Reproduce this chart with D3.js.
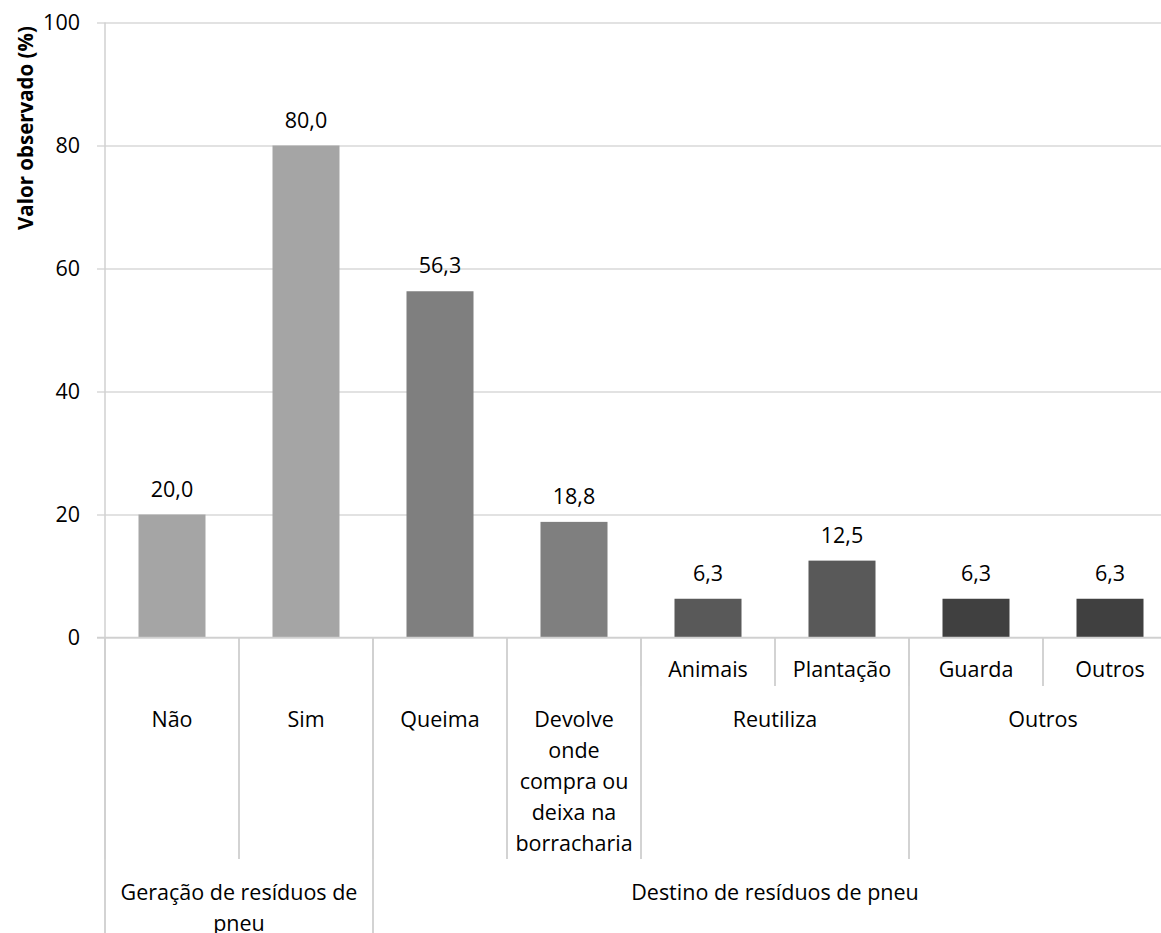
<!DOCTYPE html>
<html>
<head>
<meta charset="utf-8">
<script src="https://cdn.jsdelivr.net/npm/d3@7"></script>
<style>
  html, body { margin: 0; padding: 0; background: #fff; }
  svg { display: block; }
  text { font-family: "Open Sans", "Noto Sans", sans-serif; fill: #000; }
</style>
</head>
<body>
<svg id="chart" width="1161" height="933"></svg>
<script>
// ---- data ----
const categories = ["Não", "Sim", "Queima", "Devolve onde compra ou deixa na borracharia", "Animais", "Plantação", "Guarda", "Outros"];
const values = [20.0, 80.0, 56.3, 18.8, 6.3, 12.5, 6.3, 6.3];
const valueLabels = ["20,0", "80,0", "56,3", "18,8", "6,3", "12,5", "6,3", "6,3"];
const barColors = ["#a5a5a5", "#a5a5a5", "#7f7f7f", "#7f7f7f", "#595959", "#595959", "#404040", "#404040"];
// hierarchical axis labels: [label, firstIndex, lastIndex]
const level1 = [["Animais", 4, 4], ["Plantação", 5, 5], ["Guarda", 6, 6], ["Outros", 7, 7]];
const level2 = [["Não", 0, 0], ["Sim", 1, 1], ["Queima", 2, 2], ["Devolve onde compra ou deixa na borracharia", 3, 3], ["Reutiliza", 4, 5], ["Outros", 6, 7]];
const level3 = [["Geração de resíduos de pneu", 0, 1], ["Destino de resíduos de pneu", 2, 7]];
const yTicks = [0, 20, 40, 60, 80, 100];
const yTitle = "Valor observado (%)";

// ---- layout ----
const svg = d3.select("#chart");
const plotLeft = 105, plotRight = 1177, plotTop = 22.5, plotBottom = 637.5;
const fs = 21.5;
const x = d3.scaleBand().domain(d3.range(categories.length)).range([plotLeft, plotRight]).paddingInner(0).paddingOuter(0);
const y = d3.scaleLinear().domain([0, 100]).range([plotBottom, plotTop]);
const bw = x.bandwidth();

// gridlines + y axis
const yAxis = d3.axisLeft(y).tickValues(yTicks).tickSize(-(plotRight - plotLeft)).tickSizeOuter(0).tickPadding(25).tickFormat(d3.format("d"));
const gy = svg.append("g").attr("transform", `translate(${plotLeft},0)`).call(yAxis);
gy.select(".domain").remove();
gy.selectAll(".tick line").attr("x1", -8).attr("stroke", "#d9d9d9").attr("stroke-width", 1.3);
gy.selectAll(".tick text").attr("font-size", fs).attr("fill", "#000").style("font-family", '"Open Sans", sans-serif');

// vertical axis line (continues through category label area)
svg.append("line").attr("x1", plotLeft).attr("x2", plotLeft).attr("y1", plotTop).attr("y2", 933)
  .attr("stroke", "#d0d0d0").attr("stroke-width", 1.5);

// bars
svg.append("g").selectAll("rect").data(values).join("rect")
  .attr("x", (d, i) => x(i) + bw / 4)
  .attr("width", bw / 2)
  .attr("y", d => y(d))
  .attr("height", d => y(0) - y(d))
  .attr("fill", (d, i) => barColors[i]);

// value labels
svg.append("g").selectAll("text").data(values).join("text")
  .attr("x", (d, i) => x(i) + bw / 2)
  .attr("y", d => y(d) - 18)
  .attr("text-anchor", "middle")
  .attr("font-size", fs)
  .text((d, i) => valueLabels[i]);

// horizontal axis line at 0
svg.append("line").attr("x1", plotLeft - 8).attr("x2", plotRight).attr("y1", y(0)).attr("y2", y(0))
  .attr("stroke", "#d0d0d0").attr("stroke-width", 1.5);

// hierarchical category axis
function wrapText(sel, width, lineH) {
  sel.each(function () {
    const t = d3.select(this);
    const words = t.text().split(/\s+/);
    const x0 = t.attr("x"), y0 = +t.attr("y");
    t.text(null);
    let line = [], lineNo = 0;
    let tspan = t.append("tspan").attr("x", x0).attr("y", y0);
    for (const w of words) {
      line.push(w);
      tspan.text(line.join(" "));
      if (tspan.node().getComputedTextLength() > width && line.length > 1) {
        line.pop();
        tspan.text(line.join(" "));
        line = [w];
        lineNo++;
        tspan = t.append("tspan").attr("x", x0).attr("y", y0 + lineNo * lineH).text(w);
      }
    }
  });
}

const levels = [
  { data: level1, baseline: 677, sepEnd: 686 },
  { data: level2, baseline: 726.5, sepEnd: 859 },
  { data: level3, baseline: 900, sepEnd: 933 }
];
const axisG = svg.append("g");
levels.forEach(lv => {
  lv.data.forEach(([label, a, b]) => {
    const x0 = x(a), x1 = x(b) + bw;
    axisG.append("text")
      .attr("x", (x0 + x1) / 2)
      .attr("y", lv.baseline)
      .attr("text-anchor", "middle")
      .attr("font-size", fs)
      .text(label)
      .call(wrapText, (x1 - x0) - 10, 31);
    [x0, x1].forEach(xx => {
      axisG.append("line").attr("x1", xx).attr("x2", xx)
        .attr("y1", y(0)).attr("y2", lv.sepEnd)
        .attr("stroke", "#d0d0d0").attr("stroke-width", 1.5);
    });
  });
});

// y axis title
svg.append("text")
  .attr("transform", "translate(33,128) rotate(-90)")
  .attr("text-anchor", "middle")
  .attr("font-size", 20.5)
  .attr("font-weight", "bold")
  .text(yTitle);
</script>
</body>
</html>
